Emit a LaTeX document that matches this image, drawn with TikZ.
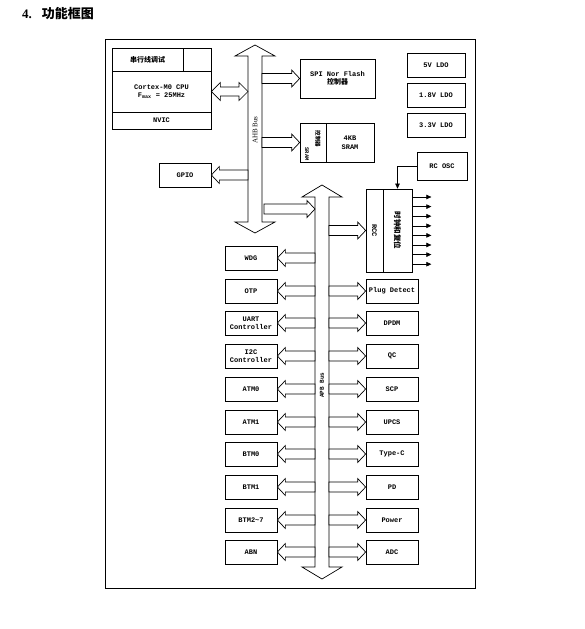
\documentclass[tikz,border=0pt]{standalone}
\usepackage{fontspec}
\setmainfont{Liberation Mono}
\newfontfamily\cjk{Noto Sans CJK SC}
\newfontfamily\rmserif{Liberation Serif}
\usetikzlibrary{calc, arrows.meta}

\newcommand\zh[1]{{\cjk\bfseries #1}}
\newcommand\lbl{\fontsize{7}{8.5}\selectfont\bfseries}

% hollow block arrows between two points
\tikzset{
  bshaft/.store in=\bshaft, bhead/.store in=\bhead, blen/.store in=\blen,
  bshaft=5pt, bhead=8.5pt, blen=8pt,
  barrow/.style={draw, line width=0.7pt, fill=white, to path={
    ($(\tikztostart)!\bshaft!90:(\tikztotarget)$)
    -- ($($(\tikztotarget)!\blen!(\tikztostart)$)!\bshaft!-90:(\tikztostart)$)
    -- ($($(\tikztotarget)!\blen!(\tikztostart)$)!\bhead!-90:(\tikztostart)$)
    -- (\tikztotarget)
    -- ($($(\tikztotarget)!\blen!(\tikztostart)$)!\bhead!90:(\tikztostart)$)
    -- ($($(\tikztotarget)!\blen!(\tikztostart)$)!\bshaft!90:(\tikztostart)$)
    -- ($(\tikztostart)!\bshaft!-90:(\tikztotarget)$)
    -- cycle}},
  dbarrow/.style={draw, line width=0.7pt, fill=white, to path={
    (\tikztostart)
    -- ($($(\tikztostart)!\blen!(\tikztotarget)$)!\bhead!90:(\tikztotarget)$)
    -- ($($(\tikztostart)!\blen!(\tikztotarget)$)!\bshaft!90:(\tikztotarget)$)
    -- ($($(\tikztotarget)!\blen!(\tikztostart)$)!\bshaft!-90:(\tikztostart)$)
    -- ($($(\tikztotarget)!\blen!(\tikztostart)$)!\bhead!-90:(\tikztostart)$)
    -- (\tikztotarget)
    -- ($($(\tikztotarget)!\blen!(\tikztostart)$)!\bhead!90:(\tikztostart)$)
    -- ($($(\tikztotarget)!\blen!(\tikztostart)$)!\bshaft!90:(\tikztostart)$)
    -- ($($(\tikztostart)!\blen!(\tikztotarget)$)!\bshaft!-90:(\tikztotarget)$)
    -- ($($(\tikztostart)!\blen!(\tikztotarget)$)!\bhead!-90:(\tikztotarget)$)
    -- cycle}}
}

\begin{document}
\begin{tikzpicture}[
  x=1pt, y=-1pt,
  box/.style={draw, line width=0.7pt, minimum width=52pt, minimum height=24pt, inner sep=1pt, align=center, font=\lbl},
  cell/.style={draw, line width=0.7pt, inner sep=0pt, align=center, font=\lbl},
  vtext/.style={rotate=-90, inner sep=0pt, align=center, font=\lbl},
  bus/.style={bshaft=7pt, bhead=20pt, blen=11pt},
  tick/.style={-{Triangle[length=5pt, width=4.5pt]}, line width=0.6pt}
]
\useasboundingbox (0,0) rectangle (584,629);

% --- title and frame ---
\node[anchor=base west, inner sep=0pt, font=\fontsize{13}{15}\selectfont] (title) at (22,18)
  {{\rmserif\bfseries 4.}\hspace{10pt}\zh{功能框图}};
\node[draw, line width=0.7pt, minimum width=370pt, minimum height=549pt] (frame) at (290,313.5) {};

% --- CPU block ---
\node[cell, minimum width=71pt, minimum height=23pt] (dbg)  at (147.5,59.5) {\zh{串行线调试}};
\node[cell, minimum width=28pt, minimum height=23pt] (dbgx) at (197,59.5) {};
\node[cell, minimum width=99pt, minimum height=41pt] (cpu)  at (161.5,91.5) {Cortex-M0 CPU\\F\textsubscript{max} = 25MHz};
\node[cell, minimum width=99pt, minimum height=17pt] (nvic) at (161.5,120.5) {NVIC};

% --- AHB side ---
\node[cell, minimum width=75pt, minimum height=39pt] (spi) at (337.5,78.5) {SPI Nor Flash\\\zh{控制器}};
\node[cell, minimum width=26pt, minimum height=39pt] (sramctl) at (313,142.5) {};
\node[vtext, font=\fontsize{5.5}{6}\selectfont\bfseries] (sramlbl) at (307,154) {SRAM};
\node[vtext, font=\fontsize{5.5}{6}\selectfont\bfseries] (sramzh) at (318,139) {\zh{控制器}};
\node[cell, minimum width=48pt, minimum height=39pt] (sram) at (350,142.5) {4KB\\SRAM};
\node[box] (gpio) at (185,175) {GPIO};

% --- LDOs ---
\node[box, minimum width=58pt] (ldo5)  at (436,65)  {5V LDO};
\node[box, minimum width=58pt] (ldo18) at (436,95)  {1.8V LDO};
\node[box, minimum width=58pt] (ldo33) at (436,125) {3.3V LDO};

% --- clocks ---
\node[box, minimum width=50pt, minimum height=28pt] (rcosc) at (442,166) {RC OSC};
\node[cell, minimum width=17pt, minimum height=83pt] (rcc) at (374.5,230.5) {};
\node[vtext] (rcclbl) at (rcc) {RCC};
\node[cell, minimum width=29pt, minimum height=83pt] (clk) at (397.5,230.5) {};
\node[vtext, font=\fontsize{7.5}{8}\selectfont] (clklbl) at (clk) {\zh{时钟和复位}};

% --- buses ---
\coordinate (ahbtop) at (255,45);
\coordinate (ahbbot) at (255,233);
\coordinate (ahbL) at (248,0);
\coordinate (ahbR) at (262,0);
\coordinate (apbtop) at (322,185);
\coordinate (apbbot) at (322,579);
\coordinate (apbL) at (315,0);
\coordinate (apbR) at (329,0);
\coordinate (hop) at (264,209);

\draw[dbarrow, bus] (ahbtop) to (ahbbot);
\node[rotate=90, inner sep=0pt, font=\rmserif\fontsize{7}{8}\selectfont] (ahblbl) at (255,130) {AHB Bus};
\draw[dbarrow, bus, blen=12pt] (apbtop) to (apbbot);
\node[rotate=90, inner sep=0pt, font=\fontsize{6}{7}\selectfont\bfseries] (apblbl) at (322,385) {APB Bus};

% --- APB peripherals, left ---
\node[box] (wdg)  at (251,258) {WDG};
\node[box] (otp)  at (251,291) {OTP};
\node[box] (uart) at (251,323) {UART\\Controller};
\node[box] (iic)  at (251,356) {I2C\\Controller};
\node[box] (atm0) at (251,389) {ATM0};
\node[box] (atm1) at (251,422) {ATM1};
\node[box] (btm0) at (251,454) {BTM0};
\node[box] (btm1) at (251,487) {BTM1};
\node[box] (btmx) at (251,520) {BTM2\textasciitilde7};
\node[box] (abn)  at (251,552) {ABN};

% --- APB peripherals, right ---
\node[box] (plug)  at (392,291) {Plug Detect};
\node[box] (dpdm)  at (392,323) {DPDM};
\node[box] (qc)    at (392,356) {QC};
\node[box] (scp)   at (392,389) {SCP};
\node[box] (upcs)  at (392,422) {UPCS};
\node[box] (typec) at (392,454) {Type-C};
\node[box] (pd)    at (392,487) {PD};
\node[box] (power) at (392,520) {Power};
\node[box] (adc)   at (392,552) {ADC};

% --- block arrows ---
\draw[dbarrow, bhead=9pt, bshaft=4.5pt, blen=9pt] (cpu.east) to (ahbL |- cpu.east);
\draw[barrow] (ahbR |- spi.west) to (spi.west);
\draw[barrow] (ahbR |- sramctl.west) to (sramctl.west);
\draw[barrow] (ahbL |- gpio.east) to (gpio.east);
\draw[barrow] (hop) to (apbL |- hop);
\draw[barrow] (apbR |- rcc.west) to (rcc.west);

\draw[barrow] (apbL |- wdg.east)  to (wdg.east);
\draw[barrow] (apbL |- otp.east)  to (otp.east);
\draw[barrow] (apbL |- uart.east) to (uart.east);
\draw[barrow] (apbL |- iic.east)  to (iic.east);
\draw[barrow] (apbL |- atm0.east) to (atm0.east);
\draw[barrow] (apbL |- atm1.east) to (atm1.east);
\draw[barrow] (apbL |- btm0.east) to (btm0.east);
\draw[barrow] (apbL |- btm1.east) to (btm1.east);
\draw[barrow] (apbL |- btmx.east) to (btmx.east);
\draw[barrow] (apbL |- abn.east)  to (abn.east);

\draw[barrow] (apbR |- plug.west)  to (plug.west);
\draw[barrow] (apbR |- dpdm.west)  to (dpdm.west);
\draw[barrow] (apbR |- qc.west)    to (qc.west);
\draw[barrow] (apbR |- scp.west)   to (scp.west);
\draw[barrow] (apbR |- upcs.west)  to (upcs.west);
\draw[barrow] (apbR |- typec.west) to (typec.west);
\draw[barrow] (apbR |- pd.west)    to (pd.west);
\draw[barrow] (apbR |- power.west) to (power.west);
\draw[barrow] (apbR |- adc.west)   to (adc.west);

% --- clock lines ---
\draw[tick] (rcosc.west) -| (clk.north);
\foreach \k in {0,...,7}
  \draw[tick] (clk.east |- 0,{197+9.6*\k}) -- ++(19,0);
\end{tikzpicture}
\end{document}
